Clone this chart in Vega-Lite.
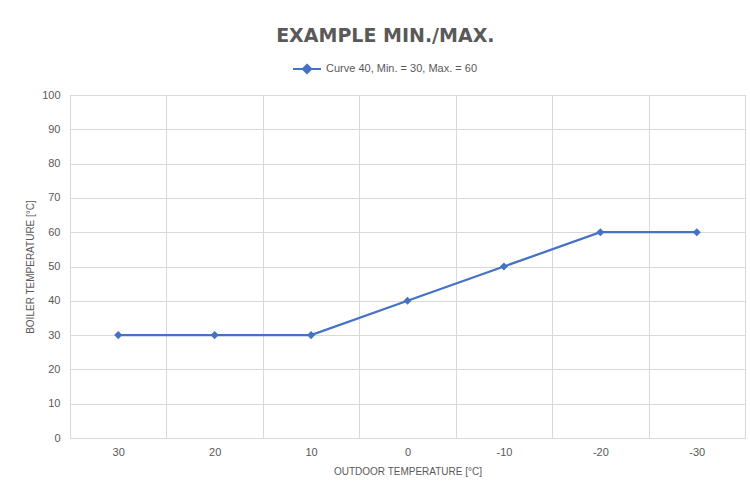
{
  "$schema": "https://vega.github.io/schema/vega-lite/v6.json",
  "width": 675,
  "height": 343,
  "autosize": "none",
  "padding": {"left": 70, "top": 95, "right": 5, "bottom": 52},
  "background": "white",
  "title": {
    "text": "EXAMPLE  MIN./MAX.",
    "font": "DejaVu Sans",
    "fontSize": 19,
    "fontWeight": "bold",
    "color": "#595959",
    "anchor": "middle",
    "frame": "bounds",
    "offset": 8
  },
  "data": {
    "values": [
      {"outdoor": "30", "boiler": 30, "series": "Curve 40, Min. = 30, Max. = 60"},
      {"outdoor": "20", "boiler": 30, "series": "Curve 40, Min. = 30, Max. = 60"},
      {"outdoor": "10", "boiler": 30, "series": "Curve 40, Min. = 30, Max. = 60"},
      {"outdoor": "0", "boiler": 40, "series": "Curve 40, Min. = 30, Max. = 60"},
      {"outdoor": "-10", "boiler": 50, "series": "Curve 40, Min. = 30, Max. = 60"},
      {"outdoor": "-20", "boiler": 60, "series": "Curve 40, Min. = 30, Max. = 60"},
      {"outdoor": "-30", "boiler": 60, "series": "Curve 40, Min. = 30, Max. = 60"}
    ]
  },
  "mark": {
    "type": "line",
    "strokeWidth": 2.25,
    "point": {"filled": true, "shape": "diamond", "size": 65}
  },
  "encoding": {
    "x": {
      "field": "outdoor",
      "type": "ordinal",
      "sort": ["30", "20", "10", "0", "-10", "-20", "-30"],
      "scale": {"type": "band", "paddingInner": 0, "paddingOuter": 0},
      "axis": {
        "title": "OUTDOOR TEMPERATURE [°C]",
        "labelAngle": 0,
        "tickBand": "extent",
        "grid": true,
        "gridColor": "#D9D9D9",
        "ticks": false,
        "domain": false,
        "labelPadding": 8,
        "titlePadding": 9
      }
    },
    "y": {
      "field": "boiler",
      "type": "quantitative",
      "scale": {"domain": [0, 100]},
      "axis": {
        "title": "BOILER TEMPERATURE [°C]",
        "values": [0, 10, 20, 30, 40, 50, 60, 70, 80, 90, 100],
        "grid": true,
        "gridColor": "#D9D9D9",
        "ticks": false,
        "domain": false,
        "labelPadding": 10,
        "titlePadding": 6
      }
    },
    "color": {
      "field": "series",
      "type": "nominal",
      "scale": {"range": ["#4472C4"]},
      "legend": {
        "title": null,
        "orient": "none",
        "legendX": 222,
        "legendY": -41,
        "direction": "horizontal",
        "symbolType": "M-1,0L1,0M0,-0.3L0.3,0L0,0.3L-0.3,0Z",
        "symbolSize": 784,
        "symbolStrokeWidth": 2,
        "symbolFillColor": "#4472C4",
        "symbolStrokeColor": "#4472C4",
        "labelFont": "Liberation Sans",
        "labelFontSize": 11,
        "labelColor": "#595959",
        "symbolOffset": 0
      }
    }
  },
  "config": {
    "view": {"stroke": "#D9D9D9", "strokeWidth": 1},
    "axis": {
      "labelFont": "Liberation Sans",
      "labelFontSize": 11,
      "labelColor": "#595959",
      "titleFont": "Liberation Sans",
      "titleFontSize": 10,
      "titleFontWeight": "normal",
      "titleColor": "#595959"
    }
  }
}
